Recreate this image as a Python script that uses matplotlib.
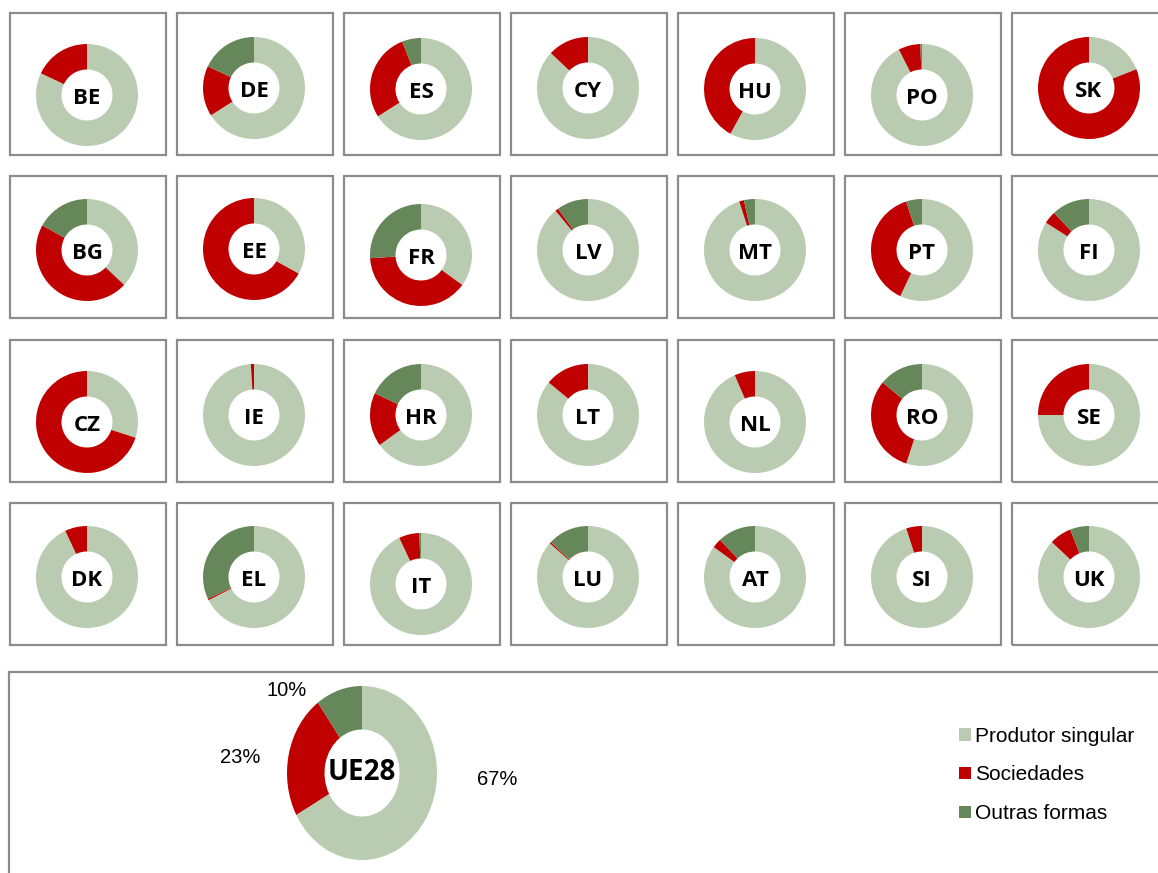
import matplotlib.pyplot as plt
from matplotlib.patches import Rectangle, Patch

# Forma jurídica das explorações agrícolas por Estado-Membro (%)
paises = ["BE", "DE", "ES", "CY", "HU", "PO", "SK",
          "BG", "EE", "FR", "LV", "MT", "PT", "FI",
          "CZ", "IE", "HR", "LT", "NL", "RO", "SE",
          "DK", "EL", "IT", "LU", "AT", "SI", "UK"]
produtor_singular = [82, 66, 66, 87, 58, 92.5, 19,
                     37, 33, 35, 89, 95, 57, 84,
                     30, 99, 65, 86, 93.5, 55, 75,
                     93, 67.5, 93, 86.5, 85, 95, 87]
sociedades = [18, 16, 28, 13, 42, 7, 81,
              46, 67, 39, 1, 1.5, 38, 4,
              70, 1, 17, 14, 6.5, 31, 25,
              7, 0.5, 6.5, 0.5, 3, 5, 7]
outras_formas = [0, 18, 6, 0, 0, 0.5, 0,
                 17, 0, 26, 10, 3.5, 5, 12,
                 0, 0, 18, 0, 0, 14, 0,
                 0, 32, 0.5, 13, 12, 0, 6]

ue28 = [67, 23, 10]
legenda = ["Produtor singular", "Sociedades", "Outras formas"]
cores = ["#B9CCB1", "#C00000", "#66875A"]

W, H = 1158, 873
fig = plt.figure(figsize=(W / 100, H / 100), dpi=100)
plt.rcParams['font.family'] = ['Liberation Sans', 'DejaVu Sans']

def px_rect(x0, y0, w, h):
    # pixels (origem no canto superior esquerdo) -> fracção da figura
    return [x0 / W, 1 - (y0 + h) / H, w / W, h / H]

def caixa(x0, y0, w, h):
    fig.add_artist(Rectangle((x0 / W, 1 - (y0 + h) / H), w / W, h / H,
                             transform=fig.transFigure, fill=False,
                             edgecolor="#8C8C8C", linewidth=1.6))

# pequenos gráficos em anel
col_x = [10 + 167 * i for i in range(7)]
lin_y = [13, 176, 340, 503]
bw, bh = 156, 142
desvio_y = [9, 2, 3, 2, 3, 9, 2,
            1, 0, 6, 1, 1, 1, 1,
            9, 2, 2, 2, 9, 2, 2,
            1, 1, 8, 1, 1, 1, 1]
r = 51

for i, pais in enumerate(paises):
    lin, col = divmod(i, 7)
    x0, y0 = col_x[col], lin_y[lin]
    caixa(x0, y0, bw, bh)
    cx = x0 + bw / 2 - 1
    cy = y0 + 73 + desvio_y[i]
    ax = fig.add_axes(px_rect(cx - r, cy - r, 2 * r, 2 * r))
    vals = [produtor_singular[i], sociedades[i], outras_formas[i]]
    ax.pie(vals, colors=cores, startangle=90, counterclock=False,
           wedgeprops=dict(width=0.5, linewidth=0))
    ax.set_xlim(-1, 1)
    ax.set_ylim(-1, 1)
    ax.text(0, -0.07, pais, ha="center", va="center", fontsize=16,
            fontweight="bold", family="Open Sans")

# UE28 (caixa inferior)
caixa(9, 672, 1200, 260)
rx, ry = 75, 87
ucx, ucy = 362, 773
ax = fig.add_axes(px_rect(ucx - rx, ucy - ry, 2 * rx, 2 * ry))
ax.pie(ue28, colors=cores, startangle=90, counterclock=False,
       wedgeprops=dict(width=0.5, linewidth=0))
ax.set_aspect("auto")
ax.set_xlim(-1, 1)
ax.set_ylim(-1, 1)
ax.text(0, 0.0, "UE28", ha="center", va="center", fontsize=20,
        fontweight="bold", family="Open Sans")

# rótulos de percentagem (posição em relação ao anel)
pos_rotulos = [(1.8, -0.07), (-1.63, 0.18), (-1.0, 0.95)]
for v, (lx, ly) in zip(ue28, pos_rotulos):
    ax.text(lx, ly, f"{v:.0f}%", ha="center", va="center", fontsize=14.5,
            clip_on=False)

handles = [Patch(facecolor=c, edgecolor="none") for c in cores]
fig.legend(handles, legenda, loc="center left",
           bbox_to_anchor=(951 / W, 1 - 775 / H), frameon=False,
           fontsize=15, handlelength=0.55, handleheight=0.55,
           handletextpad=0.2, labelspacing=0.95, borderaxespad=0)

fig.savefig("out.png", dpi=100)
